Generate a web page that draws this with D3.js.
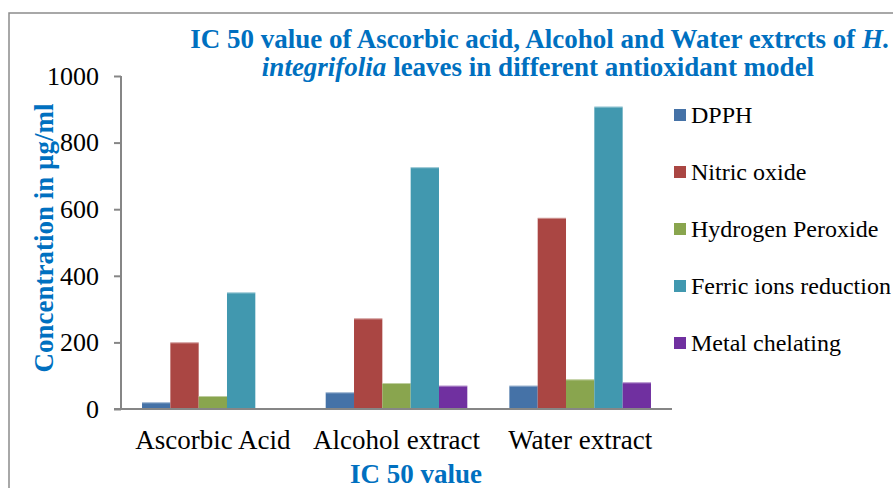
<!DOCTYPE html>
<html><head><meta charset="utf-8">
<script src="https://cdn.jsdelivr.net/npm/d3@7"></script>
<style>body{margin:0;background:#fff}svg{display:block}text{font-family:"Liberation Serif","Times New Roman",serif}</style>
</head><body>
<svg id="c" width="893" height="488"></svg>
<script>
const categories = ["Ascorbic Acid", "Alcohol extract", "Water extract"];
const seriesNames = ["DPPH", "Nitric oxide", "Hydrogen Peroxide", "Ferric ions reduction", "Metal chelating"];
const dpph = [20, 50, 70];
const nitricOxide = [200, 272, 574];
const hydrogenPeroxide = [39, 78, 89];
const ferricIons = [350, 726, 908];
const metalChelating = [0, 70, 80];
const yTicks = [0, 200, 400, 600, 800, 1000];
const colors = ["#4572A7", "#AA4643", "#89A54E", "#4198AF", "#7030A0"];
const seriesValues = [dpph, nitricOxide, hydrogenPeroxide, ferricIons, metalChelating];

(function () {
const svg = d3.select("#c");
const blue = "#0070C0";
const axisGrey = "#868686";

// frame
svg.append("path").attr("d", "M9,488 V13 H893").attr("fill", "none").attr("stroke", "#8c8c8c").attr("stroke-width", 1.5);

const pLeft = 121, pRight = 672, pTop = 76, pBottom = 409;
const x0 = d3.scaleBand().domain(categories).range([pLeft, pRight]).paddingInner(0.229).paddingOuter(0.1145);
const x1 = d3.scaleBand().domain(seriesNames).range([0, x0.bandwidth()]);
const y = d3.scaleLinear().domain([0, 1000]).range([pBottom, pTop]);

// bars
const g = svg.append("g");
categories.forEach((c, ci) => {
  seriesNames.forEach((s, si) => {
    const v = seriesValues[si][ci];
    if (v <= 0) return;
    g.append("rect")
      .attr("x", x0(c) + x1(s))
      .attr("y", y(v))
      .attr("width", x1.bandwidth())
      .attr("height", y(0) - y(v))
      .attr("fill", colors[si]);
    g.append("line")
      .attr("x1", x0(c) + x1(s)).attr("x2", x0(c) + x1(s) + x1.bandwidth())
      .attr("y1", y(v) + 0.5).attr("y2", y(v) + 0.5)
      .attr("stroke", "#fff").attr("stroke-opacity", 0.45);
  });
});

// y axis
const yAxis = d3.axisLeft(y).tickValues(yTicks).tickSize(7).tickPadding(15).tickFormat(d3.format("d"));
const ya = svg.append("g").attr("transform", `translate(${pLeft},0)`).call(yAxis);
ya.select(".domain").attr("stroke", axisGrey).attr("stroke-width", 2).attr("d", `M0,${pTop}V${pBottom}`);
ya.selectAll(".tick line").attr("stroke", axisGrey).attr("stroke-width", 2);
ya.selectAll(".tick text").attr("fill", "#000").style("font-size", "26px").style("font-family", '"Liberation Serif",serif');

// x axis line
svg.append("line").attr("x1", pLeft - 7).attr("x2", pRight).attr("y1", pBottom).attr("y2", pBottom)
  .attr("stroke", axisGrey).attr("stroke-width", 2);

// category labels
svg.append("g").selectAll("text").data(categories).join("text")
  .attr("x", d => x0(d) + x0.bandwidth() / 2)
  .attr("y", 449)
  .attr("text-anchor", "middle")
  .style("font-size", "27px")
  .attr("fill", "#000")
  .text(d => d);

// axis titles
svg.append("text").attr("x", 416).attr("y", 483).attr("text-anchor", "middle")
  .attr("fill", blue).style("font-weight", "bold").style("font-size", "27px")
  .text("IC 50 value");
svg.append("text").attr("transform", "translate(53,238) rotate(-90)").attr("text-anchor", "middle")
  .attr("fill", blue).style("font-weight", "bold").style("font-size", "27px")
  .text("Concentration in µg/ml");

// title
const t1 = svg.append("text").attr("x", 540).attr("y", 48).attr("text-anchor", "middle")
  .attr("fill", blue).style("font-weight", "bold").style("font-size", "27px");
t1.append("tspan").text("IC 50 value of Ascorbic acid, Alcohol and Water extrcts of ");
t1.append("tspan").style("font-style", "italic").text("H.");
const t2 = svg.append("text").attr("x", 538).attr("y", 76).attr("text-anchor", "middle")
  .attr("fill", blue).style("font-weight", "bold").style("font-size", "27px");
t2.append("tspan").style("font-style", "italic").text("integrifolia");
t2.append("tspan").text(" leaves in different antioxidant model");

// legend
const leg = svg.append("g");
seriesNames.forEach((s, i) => {
  const base = 123 + i * 57;
  leg.append("rect").attr("x", 674).attr("y", base - 14).attr("width", 12).attr("height", 12).attr("fill", colors[i]);
  leg.append("text").attr("x", 691).attr("y", base).style("font-size", "24px").attr("fill", "#000").text(s);
});
})();
</script>
</body></html>
